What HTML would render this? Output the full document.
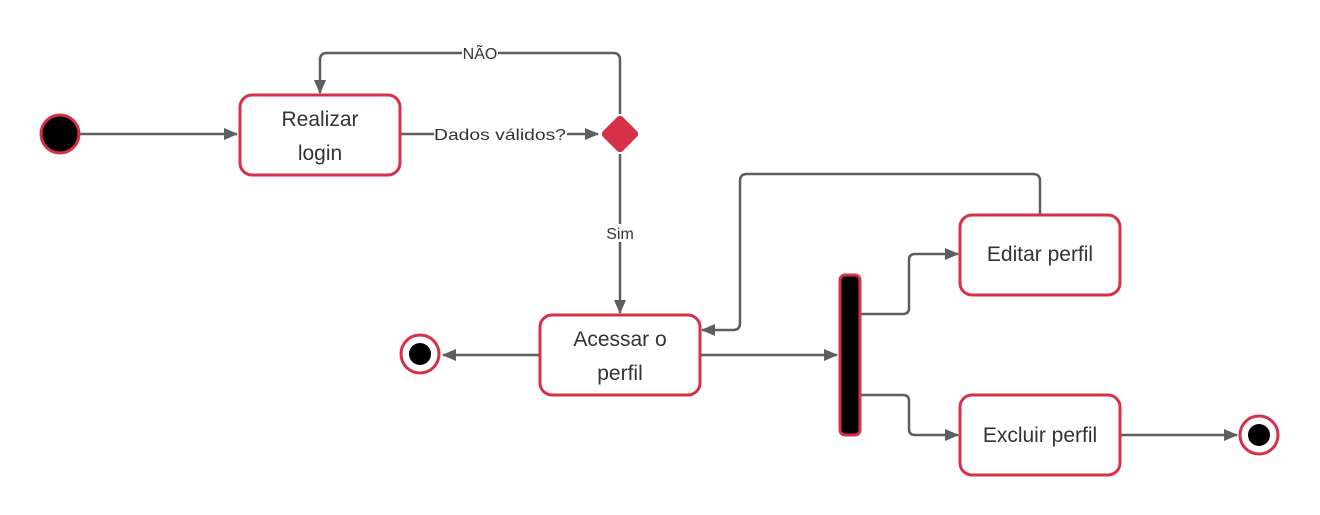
<!DOCTYPE html>
<html><head><meta charset="utf-8"><style>body{margin:0;background:#fff}svg{display:block}</style></head><body>
<svg width="1320" height="515" viewBox="0 0 1320 515" xmlns="http://www.w3.org/2000/svg" font-family="Liberation Sans, sans-serif">
<defs><marker id="a" markerWidth="14" markerHeight="14" refX="13" refY="7" orient="auto" markerUnits="userSpaceOnUse"><path d="M0,1 L14,7 L0,13 Z" fill="#5e5e5e"/></marker></defs>
<g stroke="#5e5e5e" stroke-width="2.5" fill="none">
<line x1="80" y1="134" x2="237" y2="134" marker-end="url(#a)"/>
<line x1="401" y1="134" x2="598" y2="134" marker-end="url(#a)"/>
<path d="M620,114 V60 Q620,53 613,53 H327 Q320,53 320,60 V93" marker-end="url(#a)"/>
<line x1="620" y1="154" x2="620" y2="313" marker-end="url(#a)"/>
<path d="M1040,214 V181 Q1040,174 1033,174 H747 Q740,174 740,181 V323 Q740,330 733,330 H702" marker-end="url(#a)"/>
<line x1="540" y1="355" x2="443" y2="355" marker-end="url(#a)"/>
<line x1="700" y1="355" x2="837" y2="355" marker-end="url(#a)"/>
<path d="M860,314 H903 Q909,314 909,308 V260 Q909,254 915,254 H958" marker-end="url(#a)"/>
<path d="M860,395 H903 Q909,395 909,401 V429 Q909,435 915,435 H958" marker-end="url(#a)"/>
<line x1="1120" y1="435" x2="1237" y2="435" marker-end="url(#a)"/>
</g>
<rect x="462" y="44" width="36" height="18" fill="#fff"/>
<text x="480" y="59" font-size="16" text-anchor="middle" fill="#333">NÃO</text>
<rect x="434" y="125" width="133" height="18" fill="#fff"/>
<text x="434" y="140" font-size="16" fill="#333" textLength="132" lengthAdjust="spacingAndGlyphs">Dados válidos?</text>
<rect x="604" y="224" width="32" height="18" fill="#fff"/>
<text x="620" y="239" font-size="16" text-anchor="middle" fill="#333">Sim</text>
<circle cx="60" cy="134" r="19" fill="#000" stroke="#d9304a" stroke-width="3"/>
<rect x="606" y="120" width="28" height="28" rx="4" transform="rotate(45 620 134)" fill="#d9304a"/>
<g fill="#fff" stroke="#d9304a" stroke-width="3">
<rect x="240" y="95" width="160" height="80" rx="12"/>
<rect x="540" y="315" width="160" height="80" rx="12"/>
<rect x="960" y="215" width="160" height="80" rx="12"/>
<rect x="960" y="395" width="160" height="80" rx="12"/>
<circle cx="420" cy="354" r="19"/>
<circle cx="1259" cy="435" r="19"/>
</g>
<rect x="840" y="275" width="20" height="160" rx="5" fill="#000" stroke="#d9304a" stroke-width="3"/>
<circle cx="420" cy="354" r="11" fill="#000"/>
<circle cx="1259" cy="435" r="11" fill="#000"/>
<g font-size="21" fill="#333" text-anchor="middle">
<text x="320" y="126">Realizar</text><text x="320" y="160">login</text>
<text x="620" y="346">Acessar o</text><text x="620" y="380">perfil</text>
<text x="1040" y="261">Editar perfil</text>
<text x="1040" y="442">Excluir perfil</text>
</g>
</svg>
</body></html>
